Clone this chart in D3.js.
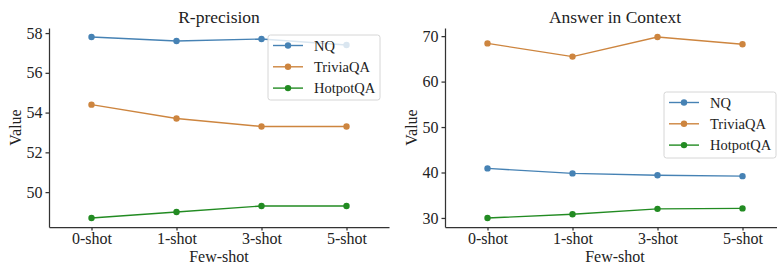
<!DOCTYPE html>
<html>
<head>
<meta charset="utf-8">
<script src="https://cdn.jsdelivr.net/npm/d3@7"></script>
<style>
  body { margin: 0; background: #fff; }
  svg { display: block; }
  svg text { font-family: "Liberation Serif", "Times New Roman", serif; }
</style>
</head>
<body>
<script>
// categories on the x axis
var shots = ["0-shot", "1-shot", "3-shot", "5-shot"];
var seriesNames = ["NQ", "TriviaQA", "HotpotQA"];
var seriesColors = ["#4682b4", "#cd853f", "#228b22"];

// R-precision values
var rpNQ = [57.8, 57.6, 57.7, 57.4];
var rpTrivia = [54.4, 53.7, 53.3, 53.3];
var rpHotpot = [48.7, 49.0, 49.3, 49.3];
var rpTicks = [50, 52, 54, 56, 58];

// Answer in Context values
var aicNQ = [40.9, 39.8, 39.4, 39.2];
var aicTrivia = [68.4, 65.5, 69.8, 68.2];
var aicHotpot = [30.0, 30.8, 32.0, 32.1];
var aicTicks = [30, 40, 50, 60, 70];

var width = 777, height = 264;

var svg = d3.select("body")
    .append("svg")
    .attr("width", width)
    .attr("height", height);

// panel layout
var panels = [
    { title: "R-precision", left: 49, series: [rpNQ, rpTrivia, rpHotpot], ticks: rpTicks,
      legend: { x: 268, y: 35, w: 112, h: 65 } },
    { title: "Answer in Context", left: 445, series: [aicNQ, aicTrivia, aicHotpot], ticks: aicTicks,
      legend: { x: 664, y: 92, w: 112, h: 66 } }
];

var axTop = 28, axBottom = 227, axWidth = 340;

panels.forEach(function(p){
    drawPanel(p);
});

// style an axis group like the reference
function styleAxis(sel){
    sel.selectAll("path, line").attr("stroke", "#333").attr("stroke-width", 1.25);
    sel.selectAll("text")
        .style("font-family", "'Liberation Serif', 'Times New Roman', serif")
        .style("font-size", "16px")
        .style("fill", "#222");
}

function drawPanel(p){
    var x = d3.scalePoint()
        .domain(shots)
        .range([p.left, p.left + axWidth])
        .padding(0.5);

    // y domain with 5% margin like matplotlib
    var all = d3.merge(p.series);
    var lo = d3.min(all), hi = d3.max(all), pad = (hi - lo) * 0.05;
    var y = d3.scaleLinear()
        .domain([lo - pad, hi + pad])
        .range([axBottom, axTop]);

    var g = svg.append("g");

    // axes
    g.append("g")
        .attr("transform", "translate(" + p.left + ",0)")
        .call(d3.axisLeft(y).tickValues(p.ticks).tickSize(3.5).tickPadding(3).tickSizeOuter(0))
        .call(styleAxis);

    g.append("g")
        .attr("transform", "translate(0," + axBottom + ")")
        .call(d3.axisBottom(x).tickSize(3.5).tickPadding(2.5).tickSizeOuter(0))
        .call(styleAxis);

    // title and labels
    var cx = p.left + axWidth / 2;
    g.append("text")
        .attr("x", cx)
        .attr("y", 23)
        .attr("text-anchor", "middle")
        .style("font-size", "17.5px")
        .style("fill", "#222")
        .text(p.title);

    g.append("text")
        .attr("x", cx)
        .attr("y", 262)
        .attr("text-anchor", "middle")
        .style("font-size", "16px")
        .style("fill", "#222")
        .text("Few-shot");

    g.append("text")
        .attr("transform", "translate(" + (p.left - 34) + "," + ((axTop + axBottom) / 2) + ") rotate(-90)")
        .attr("text-anchor", "middle")
        .attr("dy", "0.35em")
        .style("font-size", "16px")
        .style("fill", "#222")
        .text("Value");

    // lines and markers
    var line = d3.line()
        .x(function(d, i){ return x(shots[i]); })
        .y(function(d){ return y(d); });

    p.series.forEach(function(vals, s){
        g.append("path")
            .datum(vals)
            .attr("d", line)
            .attr("fill", "none")
            .attr("stroke", seriesColors[s])
            .attr("stroke-width", 1.4);

        g.selectAll(".dot" + s)
            .data(vals)
            .enter()
            .append("circle")
            .attr("cx", function(d, i){ return x(shots[i]); })
            .attr("cy", function(d){ return y(d); })
            .attr("r", 3.2)
            .attr("fill", seriesColors[s]);
    });

    // legend
    var L = p.legend;
    var leg = g.append("g");
    leg.append("rect")
        .attr("x", L.x).attr("y", L.y)
        .attr("width", L.w).attr("height", L.h)
        .attr("rx", 2.5)
        .attr("fill", "white")
        .attr("fill-opacity", 0.8)
        .attr("stroke", "#d6d6d6")
        .attr("stroke-width", 1);

    seriesNames.forEach(function(name, s){
        var ry = L.y + 10.5 + s * 21.3;
        leg.append("line")
            .attr("x1", L.x + 5).attr("x2", L.x + 35)
            .attr("y1", ry).attr("y2", ry)
            .attr("stroke", seriesColors[s])
            .attr("stroke-width", 1.4);
        leg.append("circle")
            .attr("cx", L.x + 20).attr("cy", ry)
            .attr("r", 3.2)
            .attr("fill", seriesColors[s]);
        leg.append("text")
            .attr("x", L.x + 46).attr("y", ry)
            .attr("dy", "0.35em")
            .style("font-size", "14.5px")
            .style("fill", "#222")
            .text(name);
    });
}
</script>
</body>
</html>
